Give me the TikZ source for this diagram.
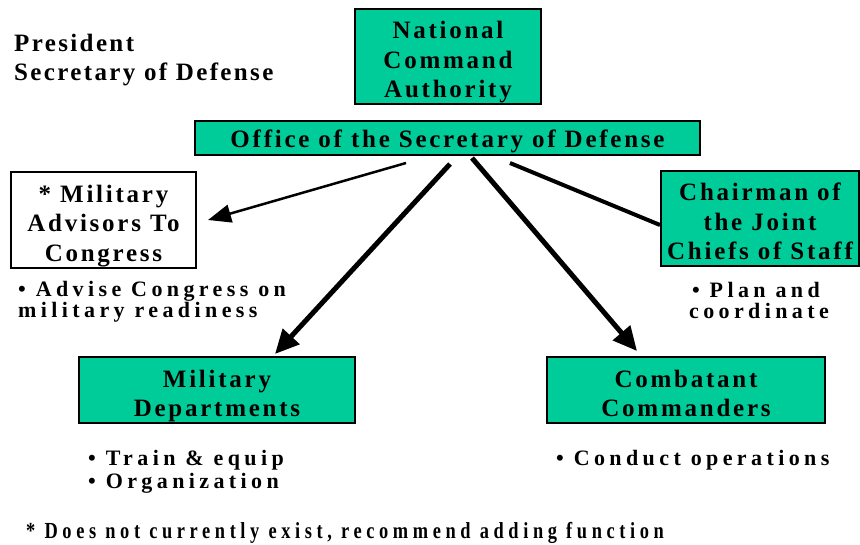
\documentclass[tikz,border=0pt]{standalone}
\usepackage{fontspec}
\usetikzlibrary{arrows.meta}
\newfontfamily\boxfont{Liberation Serif}[LetterSpace=11]
\newfontfamily\headfont{Liberation Serif}[LetterSpace=9.5]
\newfontfamily\bulfont{Liberation Serif}[LetterSpace=20]
\newfontfamily\notefont{Liberation Serif}[LetterSpace=20,FakeStretch=0.8]
\definecolor{orgteal}{RGB}{0,204,153}
\newcommand{\bst}{\rule[-6pt]{0pt}{35.5pt}}
\begin{document}
\begin{tikzpicture}[x=1pt,y=-1pt,
  orgbox/.style={draw=black, line width=2pt, fill=orgteal, inner sep=0pt, align=center,
    font={\boxfont\bfseries\fontsize{25}{29.5}\selectfont\lineskiplimit=-50pt\relax}},
  whitebox/.style={orgbox, fill=white},
  headtext/.style={inner sep=0pt, font={\headfont\bfseries\fontsize{25}{29.5}\selectfont}},
  bultext/.style={inner sep=0pt, font={\bulfont\bfseries\fontsize{22}{20}\selectfont}},
  notetext/.style={inner sep=0pt, font={\notefont\bfseries\fontsize{23}{23}\selectfont}},
  thinarrow/.style={line width=2.5pt, -{Triangle[length=23pt,width=18pt]}},
  thickarrow/.style={line width=5pt, -{Triangle[length=24pt,width=22pt]}},
  plainline/.style={line width=4pt}]
\useasboundingbox (0,0) rectangle (860,544);

% boxes
\node[orgbox, minimum width=186pt, minimum height=95pt] (nca) at (448,56.5) {\bst National\\\bst Command\\\bst Authority};
\node[orgbox, minimum width=505pt, minimum height=34pt] (osd) at (447.5,138) {\rule{0pt}{25pt}Office of the Secretary of Defense};
\node[whitebox, minimum width=185pt, minimum height=96pt] (mac) at (103.5,220) {\bst * Military\\\bst Advisors To\\\bst Congress};
\node[orgbox, minimum width=198pt, minimum height=95pt] (cjcs) at (760,218.5) {\bst Chairman of\\\bst the Joint\\\bst Chiefs of Staff};
\node[orgbox, minimum width=276pt, minimum height=66pt] (md) at (217,390) {\bst Military\\\bst Departments};
\node[orgbox, minimum width=278pt, minimum height=66pt] (cc) at (686,390) {\bst Combatant\\\bst Commanders};

% free texts
\node[headtext, anchor=base west] (pres) at (14,51) {President};
\node[headtext, anchor=base west] (secdef) at (14,80) {Secretary of Defense};
\node[bultext, anchor=base west] (adv1) at (18,296) {\textbullet{} Advise Congress on};
\node[bultext, anchor=base west] (adv2) at (18,317) {military readiness};
\node[bultext, anchor=base] (plan1) at (756,297) {\textbullet{} Plan and};
\node[bultext, anchor=base] (plan2) at (759,318) {coordinate};
\node[bultext, anchor=base west] (train) at (88,465) {\textbullet{} Train \& equip};
\node[bultext, anchor=base west] (org) at (88,488) {\textbullet{} Organization};
\node[bultext, anchor=base west] (cond) at (556,465) {\textbullet{} Conduct operations};
\node[notetext, anchor=base west] (note) at (26,538) {* Does not currently exist, recommend adding function};

% connector end points
\coordinate (s1) at (406,163);
\coordinate (e1) at (208,220);
\coordinate (s2) at (450,164);
\coordinate (e2) at (275,354);
\coordinate (s3) at (472,158);
\coordinate (e3) at (637,351);
\coordinate (s4) at (510,163);
\coordinate (e4) at (cjcs.west |- 0,225);

\draw[thinarrow] (s1) -- (e1);
\draw[thickarrow] (s2) -- (e2);
\draw[thickarrow] (s3) -- (e3);
\draw[plainline] (s4) -- (e4);
\end{tikzpicture}
\end{document}
